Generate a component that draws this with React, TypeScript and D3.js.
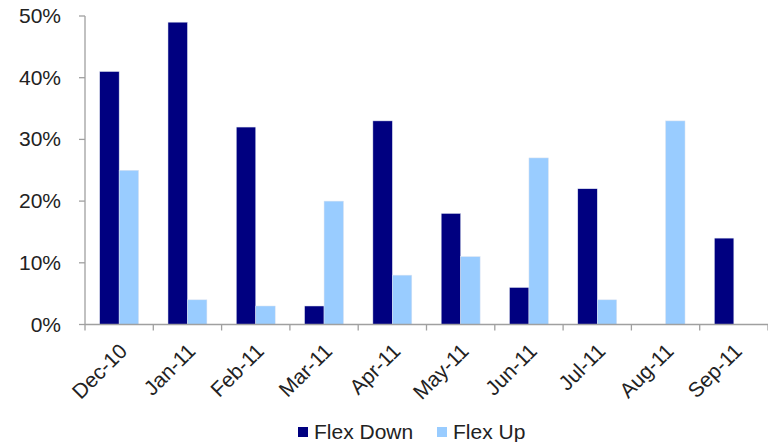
import React from "react";
import * as d3 from "d3";

const categories = ["Dec-10", "Jan-11", "Feb-11", "Mar-11", "Apr-11", "May-11", "Jun-11", "Jul-11", "Aug-11", "Sep-11"];
const flexDown = [41, 49, 32, 3, 33, 18, 6, 22, 0, 14];
const flexUp = [25, 4, 3, 20, 8, 11, 27, 4, 33, 0];
const yTicks = [0, 10, 20, 30, 40, 50];
const seriesNames = ["Flex Down", "Flex Up"];
const seriesColors = ["#000080", "#99CCFF"];

const W = 768;
const H = 442;
const left = 85;
const right = 768;
const top = 16;
const bottom = 324.5;
const FONT = "'Liberation Sans', Arial, sans-serif";

export default function App() {
  const x = d3.scaleBand<string>().domain(categories).range([left, right]);
  const y = d3.scaleLinear().domain([0, 50]).range([bottom, top]);
  const bw = x.bandwidth();
  const barW = bw * 0.285;
  const groupOff = (bw - 2 * barW) / 2;
  const series = [flexDown, flexUp];
  const axisColor = "#a0a0a0";
  const boundaries = categories.map((c) => x(c)!).concat([right]);

  return (
    <svg width={W} height={H} style={{ position: "absolute", left: 0, top: 0, background: "#fff" }} fontFamily={FONT}>
      {series.map((vals, si) =>
        vals.map((v, i) =>
          v > 0 ? (
            <rect
              key={`${si}-${i}`}
              x={x(categories[i])! + groupOff + si * barW}
              y={y(v)}
              width={barW}
              height={bottom - y(v)}
              fill={seriesColors[si]}
              stroke="#dde4f0"
              strokeWidth={0.5}
            />
          ) : null
        )
      )}
      {/* y axis */}
      <line x1={left} x2={left} y1={top} y2={bottom} stroke={axisColor} strokeWidth={1.3} />
      {yTicks.map((t) => (
        <g key={t}>
          <line x1={left - 6} x2={left} y1={y(t)} y2={y(t)} stroke={axisColor} strokeWidth={1.3} />
          <text x={61} y={y(t) + 7} textAnchor="end" fontSize={21} fill="#222">
            {t}%
          </text>
        </g>
      ))}
      {/* x axis */}
      <line x1={left} x2={right} y1={bottom} y2={bottom} stroke={axisColor} strokeWidth={1.3} />
      {boundaries.map((b, i) => (
        <line key={i} x1={b} x2={b} y1={bottom} y2={bottom + 6} stroke={axisColor} strokeWidth={1.3} />
      ))}
      {categories.map((c) => {
        const cx = x(c)! + bw / 2 - 1;
        const cy = 342;
        return (
          <text key={c} transform={`translate(${cx},${cy}) rotate(-45)`} textAnchor="end" fontSize={21} fill="#222" dy="0.7em">
            {c}
          </text>
        );
      })}
      {/* legend */}
      {[298, 437].map((lx, i) => (
        <g key={i}>
          <rect x={lx} y={427} width={10} height={10} fill={seriesColors[i]} />
          <text x={lx + 16} y={438.5} fontSize={21} fill="#222">
            {seriesNames[i]}
          </text>
        </g>
      ))}
    </svg>
  );
}
